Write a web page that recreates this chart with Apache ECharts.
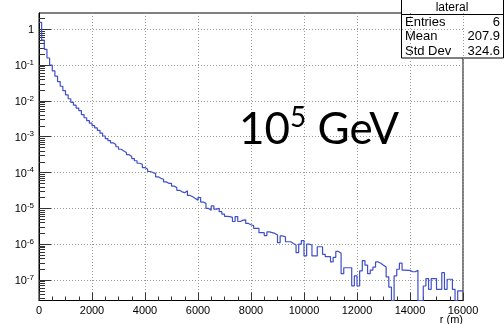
<!DOCTYPE html>
<html>
<head>
<meta charset="utf-8">
<script src="https://cdn.jsdelivr.net/npm/echarts@6/dist/echarts.min.js"></script>
<style>
  html, body { margin: 0; padding: 0; background: #ffffff; }
  #chart { width: 504px; height: 324px; }
</style>
</head>
<body>
<div id="chart"></div>
<script>
// Histogram "lateral": 160 bins of 100 m each, from 0 to 16000 m.
const binLow = 0;
const binWidth = 100;
const lateral = [
  1.55, 0.50, 0.275, 0.158, 0.100, 0.0692, 0.0490, 0.0347, 0.0257, 0.0195,
  0.0148, 0.0115, 9.12e-3, 7.59e-3, 6.31e-3, 5.37e-3, 4.17e-3, 3.39e-3, 2.82e-3, 2.40e-3,
  2.04e-3, 1.78e-3, 1.51e-3, 1.26e-3, 1.05e-3, 8.91e-4, 7.76e-4, 6.76e-4, 6.03e-4, 5.25e-4,
  4.47e-4, 3.98e-4, 3.63e-4, 3.16e-4, 2.82e-4, 2.45e-4, 2.14e-4, 1.82e-4, 1.70e-4, 1.38e-4,
  1.23e-4, 1.07e-4, 1.00e-4, 9.5e-5, 7.6e-5, 6.9e-5, 6.5e-5, 5.5e-5, 5.0e-5, 5.0e-5,
  4.2e-5, 3.8e-5, 3.2e-5, 2.9e-5, 2.75e-5, 3.1e-5, 2.3e-5, 2.1e-5, 1.9e-5, 1.7e-5,
  2.0e-5, 1.5e-5, 1.38e-5, 1.0e-5, 8.9e-6, 1.17e-5, 9.5e-6, 1.0e-5, 8.1e-6, 6.9e-6,
  6.0e-6, 5.9e-6, 5.6e-6, 4.3e-6, 5.9e-6, 4.3e-6, 4.7e-6, 4.8e-6, 3.8e-6, 3.5e-6,
  3.3e-6, 2.75e-6, 2.75e-6, 2.1e-6, 2.1e-6, 1.74e-6, 2.2e-6, 2.1e-6, 2.0e-6, 1.8e-6,
  1.1e-6, 1.7e-6, 1.6e-6, 1.17e-6, 1.17e-6, 1.05e-6, 9.5e-7, 5.8e-7, 1.0e-6, 1.26e-6,
  4.7e-7, 1.0e-6, 9.5e-7, 4.7e-7, 4.7e-7, 8.5e-7, 8.5e-7, 5.2e-7, 4.5e-7, 4.5e-7,
  3.2e-7, 4.3e-7, 6.3e-7, 5.6e-7, 1.5e-7, 2.2e-7, 2.2e-7, 2.2e-7, 6.9e-8, 1.3e-7,
  6.8e-8, 1.8e-7, 3.5e-7, 2.6e-7, 1.5e-7, 1.9e-7, 2.3e-7, 3.2e-7, 2.95e-7, 2.6e-7,
  2.3e-7, 1.23e-7, 6.3e-8, 0, 1.3e-7, 2.0e-7, 2.95e-7, 1.9e-7, 1.86e-7, 1.86e-7,
  1.7e-7, 1.7e-7, 1.86e-7, 0, 0, 6.8e-8, 1.1e-7, 5.5e-8, 1.1e-7, 1.1e-7,
  5.5e-8, 5.5e-8, 1.6e-7, 5.5e-8, 1.05e-7, 1.05e-7, 5.5e-8, 0, 5.0e-8, 5.0e-8
];

// Axis ranges and tick labels
const xMin = 0, xMax = 16000, xStep = 2000;
const xTicks = [0, 2000, 4000, 6000, 8000, 10000, 12000, 14000, 16000];
const yMin = 2.68e-8, yMax = 2.85;
const yDecades = [1e-7, 1e-6, 1e-5, 1e-4, 1e-3, 1e-2, 1e-1, 1];
const xTitle = 'r (m)';

// Statistics box
const statsTitle = 'lateral';
const statsNames = ['Entries', 'Mean', 'Std Dev'];
const statsValues = ['6', '207.9', '324.6'];

// Annotation
const energyBase = '10';
const energyExp = '5';
const energyUnit = ' GeV';

// Minor log ticks: 2..9 times each decade inside the range
const yMinors = [];
for (let e = -8; e <= 0; e++) {
  for (let m = 2; m <= 9; m++) {
    const v = m * Math.pow(10, e);
    if (v >= yMin && v <= yMax) yMinors.push(v);
  }
}

// Step outline: one point per lower bin edge plus the closing edge.
// Empty bins are drawn down to the bottom of the frame.
const outline = lateral.map((v, i) => [binLow + i * binWidth, v > 0 ? v : yMin]);
const lastVal = lateral[lateral.length - 1];
outline.push([binLow + lateral.length * binWidth, lastVal > 0 ? lastVal : yMin]);

const FONT = '"Liberation Sans", Arial, Helvetica, sans-serif';
const BIG_FONT = 'Lato, "Open Sans", sans-serif';

const chart = echarts.init(document.getElementById('chart'), null, { renderer: 'canvas' });

chart.setOption({
  animation: false,
  backgroundColor: '#ffffff',
  grid: {
    left: 39, right: 41, top: 13, bottom: 23.5,
    show: true, borderColor: '#000000', borderWidth: 1, backgroundColor: 'transparent',
    containLabel: false, outerBoundsMode: 'none'
  },
  xAxis: {
    type: 'value',
    min: xMin, max: xMax, interval: xStep,
    axisLine: { show: true, onZero: false, lineStyle: { color: '#000', width: 1 } },
    axisTick: { show: true, inside: true, length: 8, lineStyle: { color: '#333', width: 1 } },
    minorTick: { show: true, splitNumber: 4, length: 4, lineStyle: { color: '#333', width: 1 } },
    axisLabel: {
      show: true, margin: 5, fontFamily: FONT, fontSize: 11, color: '#000',
      customValues: xTicks,
      formatter: v => String(v)
    },
    splitLine: { show: true, lineStyle: { color: '#9a9a9a', width: 1, type: [1, 2] } },
    minorSplitLine: { show: false }
  },
  yAxis: [
    {
      type: 'log', logBase: 10,
      min: yMin, max: yMax,
      axisLine: { show: true, lineStyle: { color: '#000', width: 1 } },
      axisTick: { show: true, inside: true, length: 12, customValues: yDecades,
        lineStyle: { color: '#333', width: 1 } },
      axisLabel: {
        show: true, margin: 5, fontFamily: FONT, fontSize: 11, color: '#000',
        customValues: yDecades,
        formatter: v => {
          const e = Math.round(Math.log10(v));
          if (e === 0) return '{b|1}';
          return '{b|10}{s|' + e + '}';
        },
        rich: {
          b: { fontFamily: FONT, fontSize: 11, color: '#000', lineHeight: 13, verticalAlign: 'bottom' },
          s: { fontFamily: FONT, fontSize: 8, color: '#000', lineHeight: 9, verticalAlign: 'top' }
        }
      },
      splitLine: { show: true, lineStyle: { color: '#9a9a9a', width: 1, type: [1, 2] } },
      minorTick: { show: false },
      minorSplitLine: { show: false }
    },
    {
      type: 'log', logBase: 10,
      min: yMin, max: yMax,
      position: 'left', offset: 0,
      axisLine: { show: false },
      axisTick: { show: true, inside: true, length: 6, customValues: yMinors,
        lineStyle: { color: '#333', width: 1 } },
      axisLabel: { show: false },
      splitLine: { show: false },
      minorTick: { show: false },
      minorSplitLine: { show: false }
    }
  ],
  series: [
    {
      name: statsTitle,
      type: 'line',
      step: 'end',
      data: outline,
      yAxisIndex: 0,
      symbol: 'none',
      clip: true,
      lineStyle: { color: '#3f4fc8', width: 1.2 },
      z: 3
    }
  ],
  graphic: [
    // x-axis title, right-aligned under the end of the axis
    {
      type: 'text', x: 463, y: 320, z: 50,
      style: { text: xTitle, font: '11px ' + FONT, fill: '#000', align: 'right', verticalAlign: 'middle' }
    },
    // big energy annotation
    {
      type: 'text', x: 239, y: 128, z: 50,
      style: {
        text: '{b|' + energyBase + '}{s|' + energyExp + '}{b|' + energyUnit + '}',
        verticalAlign: 'middle', align: 'left',
        rich: {
          b: { fontFamily: BIG_FONT, fontSize: 44, fill: '#000', lineHeight: 48, verticalAlign: 'bottom' },
          s: { fontFamily: BIG_FONT, fontSize: 28, fill: '#000', lineHeight: 32, verticalAlign: 'top' }
        }
      }
    },
    // statistics box
    {
      type: 'group', z: 100,
      children: [
        { type: 'rect', shape: { x: 401.5, y: -0.5, width: 102, height: 58.5 },
          style: { fill: '#ffffff', stroke: '#000000', lineWidth: 1 } },
        { type: 'line', shape: { x1: 401.5, y1: 14.5, x2: 503.5, y2: 14.5 },
          style: { stroke: '#000000', lineWidth: 1 } },
        { type: 'text', x: 452, y: 7.5,
          style: { text: statsTitle, font: '12px ' + FONT, fill: '#000', align: 'center', verticalAlign: 'middle' } },
        ...statsNames.map((n, i) => ({
          type: 'text', x: 405, y: 22 + i * 14.5,
          style: { text: n, font: '13px ' + FONT, fill: '#000', align: 'left', verticalAlign: 'middle' }
        })),
        ...statsValues.map((v, i) => ({
          type: 'text', x: 500, y: 22 + i * 14.5,
          style: { text: v, font: '13px ' + FONT, fill: '#000', align: 'right', verticalAlign: 'middle' }
        }))
      ]
    }
  ]
});
</script>
</body>
</html>
